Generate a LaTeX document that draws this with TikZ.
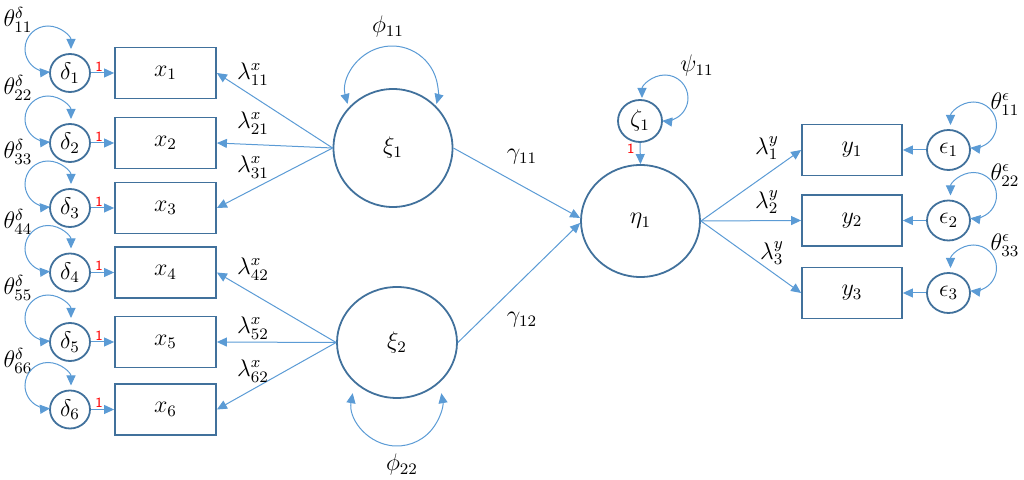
\documentclass[tikz,border=0pt]{standalone}
\usetikzlibrary{arrows.meta,shapes.geometric,calc}
\definecolor{ob}{HTML}{41719C}
\definecolor{ab}{HTML}{5B9BD5}
\begin{document}
\begin{tikzpicture}[x=0.5pt,y=-0.5pt,
  font=\fontsize{12}{14}\selectfont,
  lat/.style={ellipse,draw=ob,line width=0.9pt,inner sep=0pt},
  obs/.style={rectangle,draw=ob,line width=0.9pt,minimum width=50.5pt,minimum height=25.5pt,inner sep=0pt},
  arr/.style={draw=ab,line width=0.5pt,-{Triangle[length=5pt,width=4.5pt]}},
  dbl/.style={draw=ab,line width=0.5pt,{Triangle[length=5pt,width=4.5pt]}-{Triangle[length=5pt,width=4.5pt]}},
  one/.style={text=red,inner sep=0.5pt,font=\sffamily\fontsize{7}{8}\selectfont}
]
\useasboundingbox (0,0) rectangle (1024,480);

% exogenous side
\foreach \i/\y/\ty in {1/73/20,2/143/88,3/208/152,4/272.5/222,5/342/288,6/409.5/361}{
  \node[lat,minimum width=20pt,minimum height=19pt] (d\i) at (70,\y) {$\delta_{\i}$};
  \node[obs] (x\i) at (165.5,\y) {$x_{\i}$};
  \node[inner sep=0pt] (td\i) at (18,\ty) {$\theta^{\delta}_{\i\i}$};
  \draw[arr] (d\i.east) -- node[one,above,pos=0.35]{1} (x\i.west);
  \draw[dbl] ($(d\i.center)+(1,-24)$) arc[start angle=0,end angle=-275,radius=23];
}

\node[lat,minimum width=59.5pt,minimum height=59pt] (xi1) at (393,148) {$\xi_1$};
\node[lat,minimum width=60pt,minimum height=55.5pt] (xi2) at (397,342.5) {$\xi_2$};
\node[lat,minimum width=59.5pt,minimum height=56pt] (eta) at (640.5,221) {$\eta_1$};
\node[lat,minimum width=22pt,minimum height=21pt] (zeta) at (640,121) {$\zeta_1$};

\foreach \i in {1,2,3}{\draw[arr] (xi1.west) -- (x\i.east);}
\foreach \i in {4,5,6}{\draw[arr] (xi2.west) -- (x\i.east);}

\node[inner sep=0pt] (l11) at (253,74) {$\lambda^{x}_{11}$};
\node[inner sep=0pt] (l21) at (253,123) {$\lambda^{x}_{21}$};
\node[inner sep=0pt] (l31) at (253,167) {$\lambda^{x}_{31}$};
\node[inner sep=0pt] (l42) at (253,269) {$\lambda^{x}_{42}$};
\node[inner sep=0pt] (l52) at (253,328) {$\lambda^{x}_{52}$};
\node[inner sep=0pt] (l62) at (253,371) {$\lambda^{x}_{62}$};

% phi loops
\draw[dbl] ($(xi1.center)+(-45.4,-44.1)$) arc[start angle=165,end angle=375,radius=46];
\node[inner sep=0pt] (phi11) at (388,27) {$\phi_{11}$};
\draw[dbl] ($(xi2.center)+(-44.3,50.7)$) arc[start angle=190,end angle=-10,radius=45];
\node[inner sep=0pt] (phi22) at (402,465) {$\phi_{22}$};

% structural paths
\draw[arr] (xi1.east) -- ([yshift=1.5pt]eta.west);
\draw[arr] (xi2.east) -- ([yshift=-1pt]eta.west);
\node[inner sep=0pt] (g11) at (522,157) {$\gamma_{11}$};
\node[inner sep=0pt] (g12) at (522,320) {$\gamma_{12}$};

\draw[arr] (zeta.south) -- node[one,left=2pt,pos=0.3]{1} (eta.north);
\draw[dbl] ($(zeta.center)+(2,-23)$) arc[start angle=180,end angle=457,radius=23];
\node[inner sep=0pt] (psi) at (697,66) {$\psi_{11}$};

% endogenous side
\foreach \i/\y/\ty in {1/150/104,2/220.5/175,3/293/245}{
  \node[obs,minimum width=50pt] (y\i) at (852,\y) {$y_{\i}$};
  \node[lat,minimum width=21.5pt,minimum height=20pt] (e\i) at (948.5,\y) {$\epsilon_{\i}$};
  \node[inner sep=0pt] (te\i) at (1005,\ty) {$\theta^{\epsilon}_{\i\i}$};
  \draw[arr] (e\i.west) -- (y\i.east);
  \draw[arr] (eta.east) -- (y\i.west);
  \draw[dbl] ($(e\i.center)+(2,-25)$) arc[start angle=180,end angle=458,radius=23];
}
\node[inner sep=0pt] (ly1) at (767,148) {$\lambda^{y}_{1}$};
\node[inner sep=0pt] (ly2) at (767,202) {$\lambda^{y}_{2}$};
\node[inner sep=0pt] (ly3) at (772,253) {$\lambda^{y}_{3}$};
\end{tikzpicture}
\end{document}
